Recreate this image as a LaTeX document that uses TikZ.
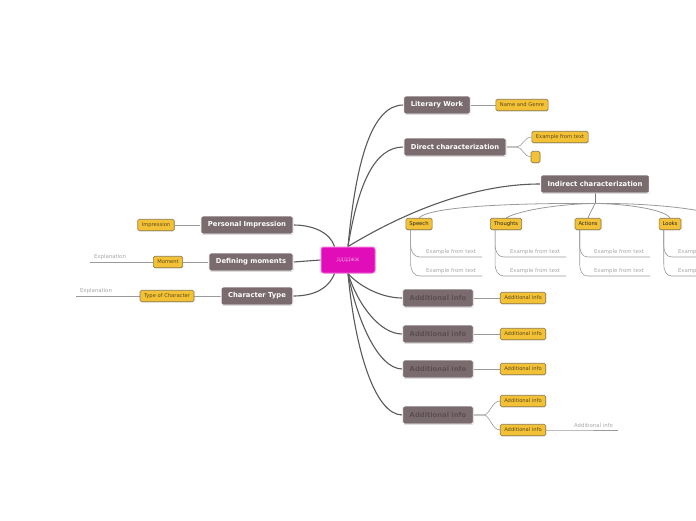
\documentclass[tikz,border=0pt]{standalone}
\usepackage{fontspec}
\setmainfont{DejaVu Sans}
\newfontfamily\cyrfont{Liberation Serif}
\usetikzlibrary{shadows,calc,backgrounds}
\definecolor{mainfill}{HTML}{7A6B6F}
\definecolor{hidtext}{HTML}{5C4F53}
\definecolor{yfill}{HTML}{F2C136}
\definecolor{ydraw}{HTML}{8C7A4E}
\definecolor{ytext}{HTML}{5E4A1C}
\definecolor{cfill}{HTML}{E00DB8}
\definecolor{cdraw}{HTML}{F070D8}
\definecolor{ctext}{HTML}{F6B0EA}
\definecolor{mline}{HTML}{5A5A5A}
\definecolor{sline}{HTML}{9A9A9A}
\definecolor{gtext}{HTML}{A8A8A8}
\tikzset{
  mainbox/.style={fill=mainfill, draw=white, line width=0.9pt, rounded corners=2pt,
    text=white, font=\bfseries\fontsize{6.8}{8}\selectfont, minimum height=18pt,
    inner xsep=7pt, inner ysep=0pt,
    drop shadow={shadow xshift=0.5pt, shadow yshift=-0.7pt, opacity=0.45}},
  hidbox/.style={mainbox, text=hidtext},
  ybox/.style={fill=yfill, draw=ydraw, line width=0.6pt, rounded corners=1.5pt,
    text=ytext, font=\fontsize{5.2}{6}\selectfont, minimum height=11.5pt,
    inner xsep=4pt, inner ysep=0pt,
    drop shadow={shadow xshift=0.4pt, shadow yshift=-0.5pt, opacity=0.35}},
  kbox/.style={ybox, text=black!85, font=\fontsize{5.2}{6}\selectfont, inner xsep=3.5pt},
  centerbox/.style={fill=cfill, draw=cdraw, line width=1pt, rounded corners=2.5pt,
    text=ctext, font=\cyrfont\fontsize{5}{6}\selectfont, minimum width=54pt, minimum height=26pt},
  gnote/.style={text=gtext, font=\fontsize{5.4}{6.2}\selectfont, inner ysep=2pt, inner xsep=6pt, outer sep=0pt},
  mainline/.style={draw=mline, line width=1.1pt},
  midline/.style={draw=mline!80, line width=0.8pt},
  subline/.style={draw=sline, line width=0.6pt},
}
\begin{document}
\begin{tikzpicture}[x=1pt,y=-1pt]
\useasboundingbox (0,0) rectangle (696,520);

% center
\node[centerbox] (c) at (348,260) {ДДДДЖЖ};

% right main nodes
\node[mainbox] (lw) at (437,105) {Literary Work};
\node[mainbox] (dc) at (455,147) {Direct characterization};
\node[mainbox] (ic) at (595,184) {Indirect characterization};
\node[hidbox] (a1) at (438,298) {Additional info};
\node[hidbox] (a2) at (438,334) {Additional info};
\node[hidbox] (a3) at (438,369) {Additional info};
\node[hidbox] (a4) at (438,415) {Additional info};

% left main nodes
\node[mainbox] (pi) at (247,225) {Personal Impression};
\node[mainbox] (dm) at (251,262) {Defining moments};
\node[mainbox] (ct) at (257,296) {Character Type};

% yellow subnodes
\node[ybox] (ng) at (522,105) {Name and Genre};
\node[ybox] (ex1) at (560,137) {Example from text};
\node[ybox, minimum width=9pt, inner xsep=0pt] (em) at (535.5,157) {};
\node[ybox] (y1) at (523,298) {Additional info};
\node[ybox] (y2) at (523,334) {Additional info};
\node[ybox] (y3) at (523,369) {Additional info};
\node[ybox] (y4) at (523,401) {Additional info};
\node[ybox] (y5) at (523,430) {Additional info};
\node[ybox] (imp) at (156,225) {Impression};
\node[ybox] (mom) at (168,262) {Moment};
\node[ybox] (toc) at (167,296) {Type of Character};

% indirect children
\node[kbox] (sp) at (419,224) {Speech};
\node[kbox] (th) at (506,224) {Thoughts};
\node[kbox] (ac) at (588,224) {Actions};
\node[kbox] (lk) at (670,224) {Looks};
\coordinate (off) at (700,211);

% gray notes
\foreach \n/\x in {sp/420,th/504,ac/588,lk/672}{
  \node[gnote, anchor=south west] (\n e1) at (\x,257) {Example from text};
  \node[gnote, anchor=south west] (\n e2) at (\x,276) {Example from text};
}
\node[gnote, anchor=south west, inner xsep=4pt] (xp1) at (90,262) {Explanation};
\node[gnote, anchor=south west, inner xsep=4pt] (xp2) at (76,296) {Explanation};
\node[gnote, anchor=south east, inner xsep=5pt] (an) at (618,430) {Additional info};

\begin{pgfonlayer}{background}
\fill[white] (0,0) rectangle (696,520);
% main connectors right
\draw[mainline] (c.north) .. controls (356,160) and (372,105) .. (lw.west);
\draw[mainline] (c.north) .. controls (358,185) and (374,147) .. (dc.west);
\draw[mainline] (c.north) .. controls (400,215) and (470,184) .. (ic.west);
\draw[mainline] (c.south) .. controls (358,285) and (380,298) .. (a1.west);
\draw[mainline] (c.south) .. controls (358,305) and (380,334) .. (a2.west);
\draw[mainline] (c.south) .. controls (357,320) and (378,369) .. (a3.west);
\draw[mainline] (c.south) .. controls (355,350) and (375,415) .. (a4.west);
% left
\draw[mainline] ($(c.north west)+(14,0)$) .. controls (330,232) and (312,225) .. (pi.east);
\draw[mainline] (c.west) -- (dm.east);
\draw[mainline] ($(c.south west)+(14,0)$) .. controls (328,290) and (312,296) .. (ct.east);

% sub connectors
\draw[subline] (lw.east) -- (ng.west);
\draw[subline] (dc.east) -- ++(10,0) .. controls +(6,0) and (524,137) .. (ex1.west);
\draw[subline] (dc.east) -- ++(10,0) .. controls +(6,0) and (524,157) .. (em.west);
\draw[subline] (a1.east) -- (y1.west);
\draw[subline] (a2.east) -- (y2.west);
\draw[subline] (a3.east) -- (y3.west);
\draw[subline] (a4.east) -- ++(10,0) .. controls +(6,0) and (492,401) .. (y4.west);
\draw[subline] (a4.east) -- ++(10,0) .. controls +(6,0) and (492,430) .. (y5.west);
\draw[subline] (y5.east) -- (an.south west) -- (an.south east);
\draw[subline] (pi.west) -- (imp.east);
\draw[subline] (dm.west) -- (mom.east);
\draw[subline] (mom.west) -- (xp1.south west);
\draw[subline] (ct.west) -- (toc.east);
\draw[subline] (toc.west) -- (xp2.south west);

% indirect children connectors
\draw[midline] (ic.south) -- ++(0,10) coordinate (ib);
\draw[subline, line width=0.8pt] (ib) .. controls (520,203) and (430,206) .. (sp.north);
\draw[subline, line width=0.8pt] (ib) .. controls (560,204) and (520,210) .. (th.north);
\draw[subline, line width=0.8pt] (ib) .. controls (593,208) and (590,213) .. (ac.north);
\draw[subline, line width=0.8pt] (ib) .. controls (630,204) and (665,210) .. (lk.north);
\draw[subline, line width=0.8pt] (ib) .. controls (640,203) and (680,207) .. (off);

% example connectors
\foreach \n in {sp,th,ac,lk}{
  \draw[subline] ($(\n.south west)+(5,0)$) -- ++(0,14) .. controls +(0,8) and +(-6,0) .. (\n e1.south west) -- (\n e1.south east);
  \draw[subline] ($(\n.south west)+(5,0)$) -- ++(0,33) .. controls +(0,8) and +(-6,0) .. (\n e2.south west) -- (\n e2.south east);
}
\end{pgfonlayer}
\end{tikzpicture}
\end{document}
